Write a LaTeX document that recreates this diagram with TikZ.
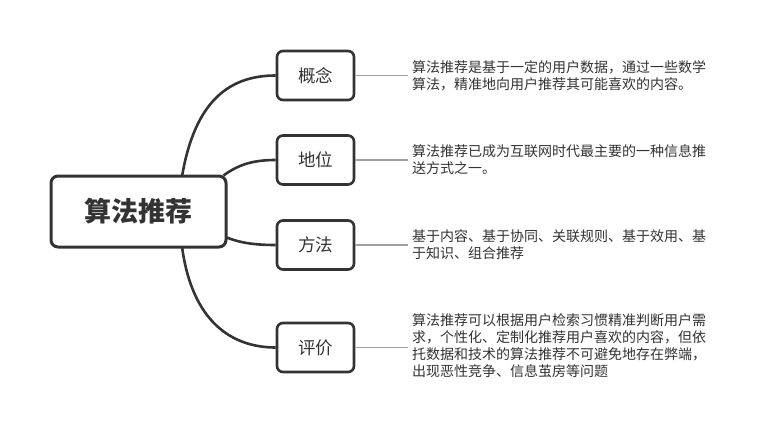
\documentclass[tikz,border=0pt]{standalone}
\usepackage{fontspec}
\newfontfamily\cjk{Noto Sans CJK SC}
\definecolor{ink}{HTML}{333333}
\definecolor{lnk}{HTML}{A0A0A0}
\pgfdeclarelayer{back}
\pgfsetlayers{back,main}
\begin{document}
\begin{tikzpicture}[x=1pt,y=-1pt,
  mainbox/.style={draw=ink,line width=3pt,rounded corners=7pt,fill=white,minimum width=175pt,minimum height=71pt,inner sep=0pt,text=ink,font=\cjk\fontsize{27}{30}\selectfont\bfseries},
  childbox/.style={draw=ink,line width=2.6pt,rounded corners=6pt,fill=white,minimum width=77pt,minimum height=49pt,inner sep=0pt,text=ink,font=\cjk\fontsize{17.5}{20}\selectfont},
  desc/.style={anchor=west,align=left,inner sep=0pt,text=ink,font=\cjk\fontsize{14}{17}\selectfont},
  branch/.style={draw=ink,line width=2.6pt},
  leader/.style={draw=lnk,line width=1.4pt,shorten >=4pt}]
\begin{pgfonlayer}{back}
\fill[white] (0,0) rectangle (762,439);
\end{pgfonlayer}
\useasboundingbox (0,0) rectangle (762,439);
\node[mainbox] (m) at (138.5,211.5) {算法推荐};
\node[childbox] (c1) at (315.5,75.5) {概念};
\node[childbox] (c2) at (315.5,160) {地位};
\node[childbox] (c3) at (315.5,245) {方法};
\node[childbox] (c4) at (315.5,347.5) {评价};
\begin{pgfonlayer}{back}
\draw[branch] ([xshift=43.5pt,yshift=-2pt]m.north) .. controls (195,100) and (230,75.5) .. (c1.west);
\draw[branch] ([xshift=-4pt,yshift=-1pt]m.north east) .. controls (238,165) and (252,160) .. (c2.west);
\draw[branch] ([xshift=-2pt,yshift=-25.5pt]m.east) .. controls (240,243) and (255,245) .. (c3.west);
\draw[branch] ([xshift=43.5pt,yshift=2pt]m.south) .. controls (192,322) and (232,347.5) .. (c4.west);
\end{pgfonlayer}
% descriptions
\node[desc] (d1) at (412,75.5) {算法推荐是基于一定的用户数据，通过一些数学\\算法，精准地向用户推荐其可能喜欢的内容。};
\node[desc] (d2) at (412,160) {算法推荐已成为互联网时代最主要的一种信息推\\送方式之一。};
\node[desc] (d3) at (412,245) {基于内容、基于协同、关联规则、基于效用、基\\于知识、组合推荐};
\node[desc] (d4) at (412,346) {算法推荐可以根据用户检索习惯精准判断用户需\\求，个性化、定制化推荐用户喜欢的内容，但依\\托数据和技术的算法推荐不可避免地存在弊端，\\出现恶性竞争、信息茧房等问题};
\draw[leader] (c1.east) -- (c1.east -| d1.west);
\draw[leader] (c2.east) -- (c2.east -| d2.west);
\draw[leader] (c3.east) -- (c3.east -| d3.west);
\draw[leader] (c4.east) -- (c4.east -| d4.west);
\end{tikzpicture}
\end{document}
